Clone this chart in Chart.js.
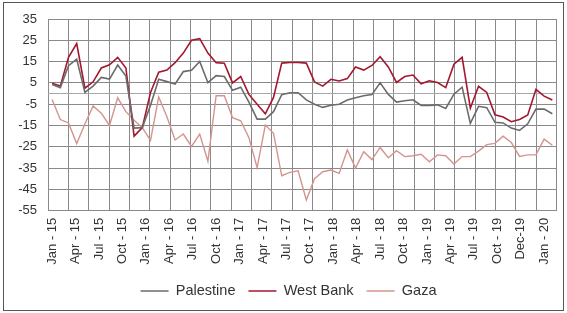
<!DOCTYPE html>
<html>
<head>
<meta charset="utf-8">
<title>Palestine, West Bank, Gaza</title>
<script src="https://cdn.jsdelivr.net/npm/chart.js"></script>
<style>
  body { margin: 0; background: #fff; }
  #wrap { position: relative; width: 567px; height: 313px; }
  #frame { position: absolute; left: 3px; top: 2px; width: 559px; height: 307px; border: 1.5px solid #555; pointer-events: none; }
</style>
</head>
<body>
<div id="wrap">
  <canvas id="chart" width="567" height="313"></canvas>
  <div id="frame"></div>
</div>
<script>
// monthly categories, Jan 2015 .. Feb 2020
const monthNames = ['Jan','Feb','Mar','Apr','May','Jun','Jul','Aug','Sep','Oct','Nov','Dec'];
const categories = [];
for (let yr = 15; yr <= 20; yr++) {
    for (let m = 0; m < 12 && categories.length < 62; m++) {
        categories.push(monthNames[m] + ' - ' + yr);
    }
}

// labels printed under the axis (evenly spread, as in the original)
const tickLabels = ['Jan - 15','Apr - 15','Jul - 15','Oct - 15','Jan - 16','Apr - 16','Jul - 16','Oct - 16',
    'Jan - 17','Apr - 17','Jul - 17','Oct - 17','Jan - 18','Apr - 18','Jul - 18','Oct - 18',
    'Jan - 19','Apr - 19','Jul - 19','Oct - 19','Dec-19','Jan - 20'];
const yTicks = [35, 25, 15, 5, -5, -15, -25, -35, -45, -55];

const palestine = [4.3, 2.8, 13.1, 16.2, 0.6, 3.5, 7.6, 6.8, 13.4, 8.2,
    -16.2, -16, -5.5, 6.7, 5.6, 4.5, 10.3, 10.9, 15.1, 5.1,
    8.4, 8, 1.5, 3, -4, -12, -12, -8.5, -0.5, 0.4,
    0.4, -3, -5, -6.5, -5.5, -5, -3, -2, -1, -0.5,
    5, -0.4, -4, -3.4, -2.9, -5.6, -5.6, -5.3, -7, -0.3,
    3, -14, -6, -6.6, -13.5, -13.8, -16.2, -17.3, -14.2, -7.3,
    -7.3, -9.5];
const westBank = [4.8, 3.5, 17, 23.5, 2.5, 5.5, 12, 13.5, 17, 12,
    -20, -16, 0.5, 10, 11, 14.5, 19, 25, 25.8, 19,
    14.5, 14.2, 5, 8, -0.4, -5, -9.5, -1.8, 14.3, 14.6,
    14.6, 14.3, 5.5, 3.5, 6.7, 5.9, 7, 12.5, 11, 13.2,
    17.3, 12.5, 5.2, 8, 8.7, 4.6, 6, 5.2, 2.8, 13.8,
    17, -6.9, 3.4, 0.5, -10, -11, -13.2, -12.2, -10.1, 2,
    -1.2, -3];
const gaza = [-2.8, -12.2, -13.8, -23.5, -14.3, -5.8, -9.2, -15, -2, -8.5,
    -12.5, -16, -22, -1.6, -10.9, -21.8, -19, -24.8, -19, -31.8,
    -1, -1, -11.3, -12.8, -20.7, -34.8, -14.8, -18.7, -38.6, -37,
    -36.3, -50, -40, -36.7, -35.9, -37.5, -26.5, -35, -27.3, -31,
    -25.3, -30.1, -26.8, -29.6, -29.2, -28.5, -32, -28.8, -29.2, -33.1,
    -29.6, -29.6, -27, -24, -23.4, -20, -23, -29.5, -28.8, -28.8,
    -21.4, -24.3];

const gridColumns = 25;
const gridColor = '#8a8a8a';
const tickFont = { family: "'Liberation Sans', Arial, sans-serif", size: 13 };
const legendFont = { family: "'Liberation Sans', Arial, sans-serif", size: 14.5 };

// the legend sits a little higher than where Chart.js puts it
const legendNudge = {
    id: 'legendNudge',
    afterLayout(chart) {
        const l = chart.legend;
        l.left += 1; l.right += 1;
        l.top -= 2; l.bottom -= 2;
    }
};

new Chart(document.getElementById('chart'), {
    type: 'line',
    data: {
        labels: categories,
        datasets: [{
            label: 'Palestine',
            data: palestine,
            borderColor: '#6b6b6b',
            borderWidth: 1.6
        }, {
            label: 'West Bank',
            data: westBank,
            borderColor: '#a3182f',
            borderWidth: 1.6
        }, {
            label: 'Gaza',
            data: gaza,
            borderColor: '#d4948e',
            borderWidth: 1.4
        }]
    },
    options: {
        responsive: false,
        animation: false,
        events: [],
        layout: { padding: { left: 14, right: 6, top: 19, bottom: 3.3 } },
        elements: {
            point: { radius: 0 },
            line: { tension: 0 }
        },
        scales: {
            x: {
                type: 'category',
                offset: true,
                ticks: { display: false },
                grid: { display: false },
                border: { display: false },
                afterFit: s => { s.height = 0; }
            },
            xGrid: {
                type: 'linear',
                position: 'bottom',
                min: 0,
                max: gridColumns,
                ticks: { display: false, stepSize: 1 },
                grid: { color: gridColor, drawTicks: false },
                border: { display: false },
                afterFit: s => { s.height = 0; }
            },
            xLabels: {
                type: 'linear',
                position: 'bottom',
                min: -0.5,
                max: categories.length - 0.5,
                afterBuildTicks: s => {
                    s.ticks = tickLabels.map((_, k) => ({ value: k * 60 / (tickLabels.length - 1) }));
                },
                ticks: {
                    autoSkip: false,
                    minRotation: 90,
                    maxRotation: 90,
                    padding: 7,
                    color: '#333',
                    font: tickFont,
                    callback: (v, i) => tickLabels[i]
                },
                grid: { display: false, drawTicks: false },
                border: { display: false },
                afterFit: s => { s.height = 62; }
            },
            y: {
                min: -55,
                max: 35,
                afterBuildTicks: s => { s.ticks = yTicks.map(v => ({ value: v })); },
                ticks: { padding: 11, color: '#333', font: tickFont },
                grid: { color: gridColor, drawTicks: false },
                border: { display: false },
                afterFit: s => { s.width = 34; }
            },
            yZero: {
                type: 'linear',
                position: 'left',
                min: -55,
                max: 35,
                afterBuildTicks: s => { s.ticks = [{ value: 0 }]; },
                ticks: { display: false },
                grid: { color: '#a8a8a8', drawTicks: false },
                border: { display: false },
                afterFit: s => { s.width = 0; }
            }
        },
        plugins: {
            tooltip: { enabled: false },
            legend: {
                position: 'bottom',
                maxHeight: 37,
                labels: {
                    usePointStyle: true,
                    pointStyle: 'line',
                    pointStyleWidth: 28,
                    padding: 13,
                    color: '#333',
                    font: legendFont
                }
            }
        }
    },
    plugins: [legendNudge]
});
</script>
</body>
</html>
